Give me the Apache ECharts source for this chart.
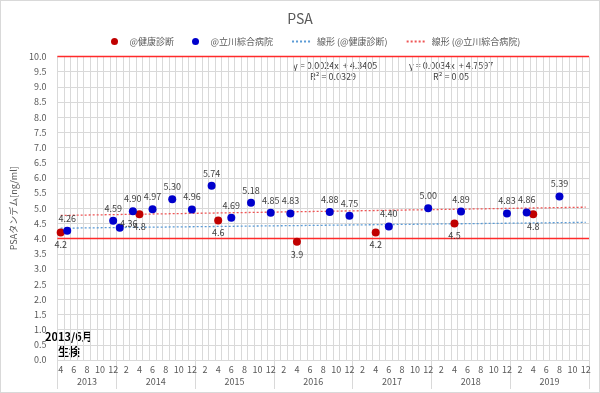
<!DOCTYPE html>
<html>
<head>
<meta charset="utf-8">
<script src="https://cdn.jsdelivr.net/npm/echarts@6/dist/echarts.min.js"></script>
<style>
html,body{margin:0;padding:0;background:#fff;}
#c{width:600px;height:393px;box-sizing:border-box;border:1px solid #d9d9d9;}
</style>
</head>
<body>
<div id="c"></div>
<script>
// ---- data ----
const yearLabels = ['2013','2014','2015','2016','2017','2018','2019'];
const firstMonth = 4;           // axis starts 2013/4
const healthDates = ['2013-04','2014-04','2015-04','2016-04','2017-04','2018-04','2019-04'];
const healthValues = [4.2, 4.8, 4.6, 3.9, 4.2, 4.5, 4.8];
const hospitalDates = ['2013-05','2013-12','2014-01','2014-03','2014-06','2014-09','2014-12',
  '2015-03','2015-06','2015-09','2015-12','2016-03','2016-09','2016-12','2017-06','2017-12',
  '2018-05','2018-12','2019-03','2019-08'];
const hospitalValues = [4.26, 4.59, 4.36, 4.90, 4.97, 5.30, 4.96, 5.74, 4.69, 5.18, 4.85, 4.83,
  4.88, 4.75, 4.40, 5.00, 4.89, 4.83, 4.86, 5.39];
// trend line end values (y = 0.0024x + 4.3405 and y = 0.0034x + 4.7597 at first/last category)
const trendHealthEnds = [4.343, 4.535];
const trendHospitalEnds = [4.763, 5.035];
const refLines = [4.0, 10.0];
const yTicks = {min: 0, max: 10, step: 0.5};

// ---- categories (one per month) ----
const categories = [];
yearLabels.forEach((y, yi) => {
  for (let m = (yi === 0 ? firstMonth : 1); m <= 12; m++) {
    categories.push(y + '-' + String(m).padStart(2, '0'));
  }
});
const monthOf = k => parseInt(k.split('-')[1], 10);
const yearOf = k => k.split('-')[0];

function trendData(ends) {
  return categories.map((c, i) => i === 0 ? ends[0] : (i === categories.length - 1 ? ends[1] : null));
}
const labelOffsets = {'2014-01': [9, 8]};

const FONT = "'Noto Sans CJK JP', 'Noto Sans', sans-serif";
const TXT = '#595959';
const GRID = '#d9d9d9';

const chart = echarts.init(document.getElementById('c'), null, {renderer: 'canvas'});
chart.setOption({
  animation: false,
  textStyle: {fontFamily: FONT},
  title: {text: 'PSA', left: 'center', top: 6,
    textStyle: {fontSize: 14, fontWeight: 'normal', color: TXT, fontFamily: FONT}},
  legend: {
    left: 105, top: 31, itemGap: 18, itemWidth: 20, itemHeight: 7,
    textStyle: {fontSize: 9, color: TXT, fontFamily: FONT},
    data: [
      {name: '@健康診断'},
      {name: '@立川綜合病院'},
      {name: '線形 (@健康診断)', itemStyle: {opacity: 0}},
      {name: '線形 (@立川綜合病院)', itemStyle: {opacity: 0}}
    ]
  },
  grid: {left: 53, right: 10, top: 55.5, bottom: 32},
  xAxis: [{
    type: 'category', data: categories, boundaryGap: true,
    axisLine: {show: true, lineStyle: {color: GRID}},
    axisTick: {show: false},
    axisLabel: {interval: (i) => i % 2 === 0, formatter: v => String(monthOf(v)),
      fontSize: 9, color: TXT, margin: 5},
    splitLine: {show: true, interval: 0, lineStyle: {color: GRID, width: 1}}
  }, {
    type: 'category', data: categories, boundaryGap: true, position: 'bottom',
    axisLine: {show: false},
    axisTick: {show: true, length: 29, lineStyle: {color: GRID},
      interval: (i, v) => i === 0 || monthOf(v) === 1},
    axisLabel: {
      interval: (i, v) => (i === 4) || (i > 8 && monthOf(v) === 7),
      formatter: v => (monthOf(v) === 7 ? '{s|' + yearOf(v) + '}' : yearOf(v)),
      rich: {s: {padding: [0, 6.6, 0, 0], fontSize: 9, color: TXT}},
      fontSize: 9, color: TXT, margin: 17
    },
    splitLine: {show: false}
  }],
  yAxis: {
    type: 'value', min: yTicks.min, max: yTicks.max, interval: yTicks.step,
    name: 'PSAタンデム[ng/ml]', nameLocation: 'middle', nameGap: 35,
    nameTextStyle: {fontSize: 9, color: TXT, fontFamily: FONT},
    axisLine: {show: false}, axisTick: {show: false},
    axisLabel: {formatter: v => v.toFixed(1), fontSize: 9, color: TXT, margin: 11},
    splitLine: {lineStyle: {color: GRID, width: 1}}
  },
  series: [{
    name: '線形 (@健康診断)', type: 'line', data: trendData(trendHealthEnds), connectNulls: true,
    symbol: 'none', color: '#5b9bd5', lineStyle: {color: '#5b9bd5', width: 1.3, type: [2, 2]}, z: 3
  }, {
    name: '線形 (@立川綜合病院)', type: 'line', data: trendData(trendHospitalEnds), connectNulls: true,
    symbol: 'none', color: '#ee5555', lineStyle: {color: '#ee5555', width: 1.3, type: [2, 2]}, z: 3,
    markLine: {silent: true, symbol: 'none', label: {show: false},
      lineStyle: {color: '#ff2a2a', width: 1.3, type: 'solid'},
      data: refLines.map(v => ({yAxis: v}))}
  }, {
    name: '@健康診断', type: 'scatter', symbol: 'circle', symbolSize: 8, color: '#c00000',
    itemStyle: {color: '#c00000', opacity: 1}, z: 5,
    label: {show: true, position: 'bottom', distance: 4, fontSize: 9, color: '#404040',
      formatter: p => p.value[1].toFixed(1)},
    data: healthDates.map((d, i) => [d, healthValues[i]])
  }, {
    name: '@立川綜合病院', type: 'scatter', symbol: 'circle', symbolSize: 8, color: '#0000cc',
    itemStyle: {color: '#0000cc', opacity: 1}, z: 5,
    label: {show: true, position: 'top', distance: 4, fontSize: 9, color: '#404040',
      formatter: p => p.value[1].toFixed(2)},
    data: hospitalDates.map((d, i) => labelOffsets[d]
      ? {value: [d, hospitalValues[i]], label: {offset: labelOffsets[d]}}
      : [d, hospitalValues[i]])
  }],
  graphic: [
    {type: 'text', left: 292, top: 60, style: {text: 'y = 0.0024x  + 4.3405', fontSize: 9, fill: '#404040', fontFamily: FONT}},
    {type: 'text', left: 309, top: 71, style: {text: 'R² = 0.0329', fontSize: 9, fill: '#404040', fontFamily: FONT}},
    {type: 'text', left: 408, top: 60, style: {text: 'y = 0.0034x  + 4.7597', fontSize: 9, fill: '#404040', fontFamily: FONT}},
    {type: 'text', left: 432, top: 71, style: {text: 'R² = 0.05', fontSize: 9, fill: '#404040', fontFamily: FONT}},
    {type: 'text', left: 44, top: 330, style: {text: '2013/6月', fontSize: 11, fontWeight: 'bold', fill: '#000', fontFamily: FONT}},
    {type: 'text', left: 57, top: 345, style: {text: '生検', fontSize: 11, fontWeight: 'bold', fill: '#000', fontFamily: FONT}}
  ]
});
</script>
</body>
</html>
